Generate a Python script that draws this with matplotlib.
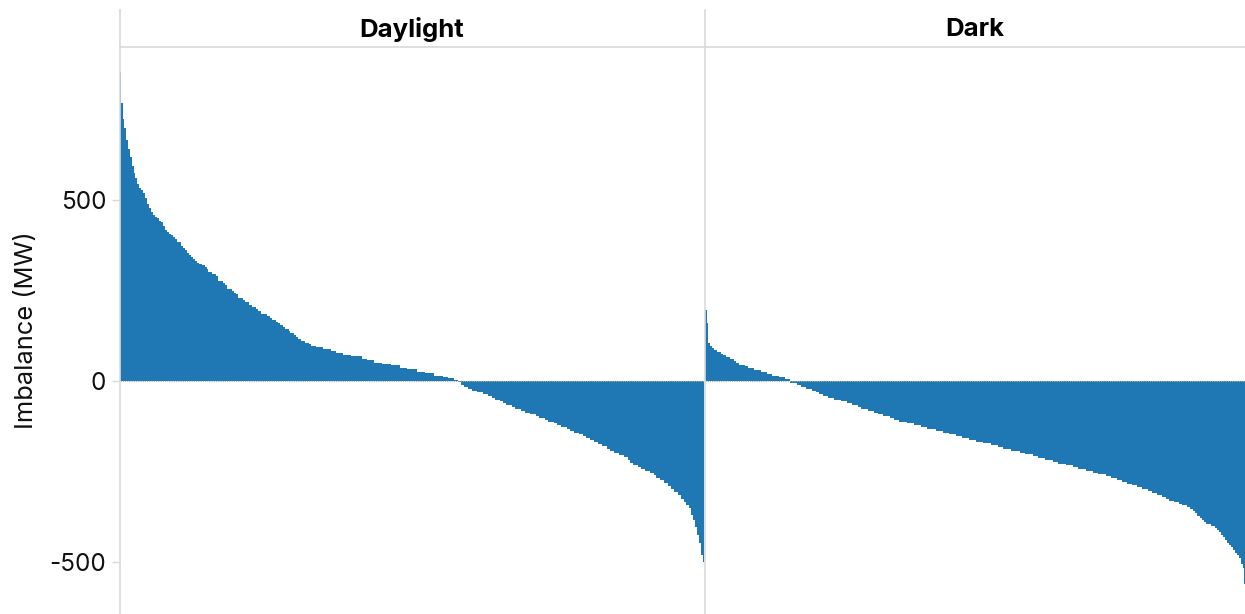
import matplotlib
matplotlib.use("Agg")
import matplotlib.pyplot as plt
import numpy as np
from matplotlib.lines import Line2D

plt.rcParams['font.family'] = ['Inter', 'DejaVu Sans']
plt.rcParams['axes.unicode_minus'] = False

# ---------------- data (sorted imbalance per period, run-length as read) ----
panels = ["Daylight", "Dark"]

day_values = [854, 769, 723, 698, 667, 642, 618, 595, 575, 562, 545, 534, 527, 520,
              506, 490, 479, 468, 460, 454, 451, 443, 438, 427, 418, 413, 407, 404,
              399, 393, 385, 374, 368, 363, 355, 349, 343, 338, 332, 327, 324, 320,
              314, 309, 302, 296, 289, 276, 270, 265, 253, 248, 242, 239, 229, 223,
              217, 210, 204, 198, 193, 186, 184, 179, 173, 168, 162, 159, 154, 148,
              143, 137, 132, 128, 122, 117, 111, 106, 101, 98, 93, 87, 82, 76, 73,
              68, 62, 57, 51, 46, 43, 37, 32, 26, 21, 15, 10, 7, 4,
              -4, -10, -16, -22, -27, -31, -36, -42, -47, -53, -56, -61, -66, -72,
              -77, -82, -88, -92, -97, -102, -108, -113, -116, -122, -127, -133,
              -138, -144, -147, -152, -157, -163, -168, -174, -181, -187, -193,
              -198, -204, -211, -218, -226, -232, -237, -243, -248, -254, -261,
              -267, -274, -282, -289, -298, -307, -316, -325, -334, -342, -351,
              -370, -384, -403, -425, -449, -480, -500]
day_counts = [1, 2, 1, 2, 2, 2, 2, 2, 1, 2, 2, 2, 2, 2,
              2, 2, 2, 2, 2, 2, 2, 2, 2, 2, 2, 2, 2, 2,
              2, 2, 4, 2, 2, 2, 2, 2, 2, 2, 2, 2, 3, 3,
              2, 1, 4, 4, 2, 5, 2, 2, 5, 2, 2, 2, 5, 2,
              4, 3, 4, 2, 3, 2, 4, 3, 2, 4, 2, 2, 3, 2,
              4, 1, 4, 2, 2, 3, 4, 4, 2, 5, 7, 8, 5, 7, 8,
              11, 5, 7, 8, 9, 9, 7, 9, 8, 9, 9, 5, 6, 4,
              3, 3, 4, 4, 5, 6, 5, 4, 3, 5, 3, 3, 6, 3,
              6, 4, 5, 6, 3, 6, 3, 6, 3, 4, 6, 3,
              4, 5, 4, 3, 4, 4, 4, 4, 5, 3, 4,
              5, 5, 4, 2, 3, 5, 3, 4, 5, 4, 2,
              4, 4, 4, 3, 3, 4, 3, 3, 2, 3, 2,
              2, 2, 2, 2, 2, 2, 1]

dark_values = [196, 161, 106, 97, 91, 86, 80, 75, 72, 66, 61, 55, 50, 44, 41, 36,
               30, 25, 19, 14, 11, 5,
               -5, -12, -17, -22, -28, -30, -36, -41, -47, -53, -55, -61, -66, -72,
               -77, -83, -88, -91, -97, -102, -108, -113, -116, -121, -127, -132,
               -138, -144, -147, -152, -157, -163, -168, -171, -177, -182, -188,
               -193, -199, -202, -207, -213, -218, -224, -229, -232, -238, -243,
               -249, -254, -257, -263, -268, -274, -279, -285, -288, -293, -299,
               -304, -310, -316, -321, -327, -332, -335, -341, -343, -349, -355,
               -360, -366, -374, -379, -385, -390, -396, -401, -407, -412, -418,
               -427, -432, -440, -447, -454, -460, -468, -475, -482, -490, -505,
               -517, -560]
dark_counts = [2, 1, 2, 2, 2, 3, 4, 2, 3, 4, 4, 2, 3, 6, 3, 6,
               7, 6, 5, 7, 6, 5,
               7, 4, 5, 6, 4, 3, 4, 5, 6, 7, 6, 5, 6, 3,
               7, 6, 4, 5, 7, 4, 5, 8, 7, 7, 6, 9,
               7, 6, 7, 6, 7, 7, 7, 8, 7, 5, 8,
               9, 5, 8, 5, 7, 8, 5, 8, 7, 5, 8,
               7, 5, 8, 5, 6, 5, 5, 5, 5, 5, 6,
               4, 5, 5, 4, 3, 5, 5, 3, 5, 3, 3,
               2, 2, 3, 2, 2, 2, 5, 4, 2, 2, 2,
               2, 2, 2, 2, 2, 2, 2, 2, 2, 2, 2,
               1, 1]

y_ticks = [-500, 0, 500]
y_tick_labels = ["-500", "0", "500"]
y_label = "Imbalance (MW)"

# ---------------- layout ----------------
W, H = 1245, 614
fig = plt.figure(figsize=(W / 100, H / 100), dpi=100)

def fx(px):
    return px / W

def fy(py):
    return 1 - py / H

bar_color = "#1f77b4"
line_color = "#d9d9d9"
ymin, ymax = -644, 923

ax_day = fig.add_axes([fx(120), 0, fx(584), 567 / H])
ax_dark = fig.add_axes([fx(705), 0, fx(540), 567 / H])

for ax, vals, cnts in [(ax_day, day_values, day_counts),
                       (ax_dark, dark_values, dark_counts)]:
    heights = np.repeat(vals, cnts)
    x = np.arange(len(heights))
    ax.bar(x, heights, width=1.0, color=bar_color, linewidth=0,
           antialiased=False, zorder=2)
    ax.axhline(0, color="#b0b0b0", lw=0.8, ls=(0, (1, 1)), zorder=3)
    ax.set_xlim(-0.5, len(heights) - 0.5)
    ax.set_ylim(ymin, ymax)
    for s in ax.spines.values():
        s.set_visible(False)
    ax.set_xticks([])
    ax.patch.set_alpha(0)

ax_day.set_yticks(y_ticks)
ax_day.set_yticklabels(y_tick_labels)
ax_day.tick_params(axis="y", length=6, width=1, color=line_color, pad=4,
                   labelsize=17.5, labelcolor="#111111")
ax_day.set_ylabel(y_label, fontsize=18.3, color="#111111")
ax_day.yaxis.set_label_coords(-0.14, 0.5)
ax_dark.set_yticks([])

# panel frame lines and strip headers
for xpx in (120, 705):
    fig.add_artist(Line2D([fx(xpx), fx(xpx)], [0, fy(10)], color=line_color,
                          lw=1.2, zorder=5))
fig.add_artist(Line2D([fx(120), 1], [fy(47), fy(47)], color=line_color,
                      lw=1.2, zorder=5))

centers = [(120 + 704) / 2, (705 + 1245) / 2]
for name, cx in zip(panels, centers):
    fig.text(fx(cx), fy(29), name, ha="center", va="center",
             fontsize=18.5, fontweight="bold", color="#000000")

fig.savefig("out.png", dpi=100)
